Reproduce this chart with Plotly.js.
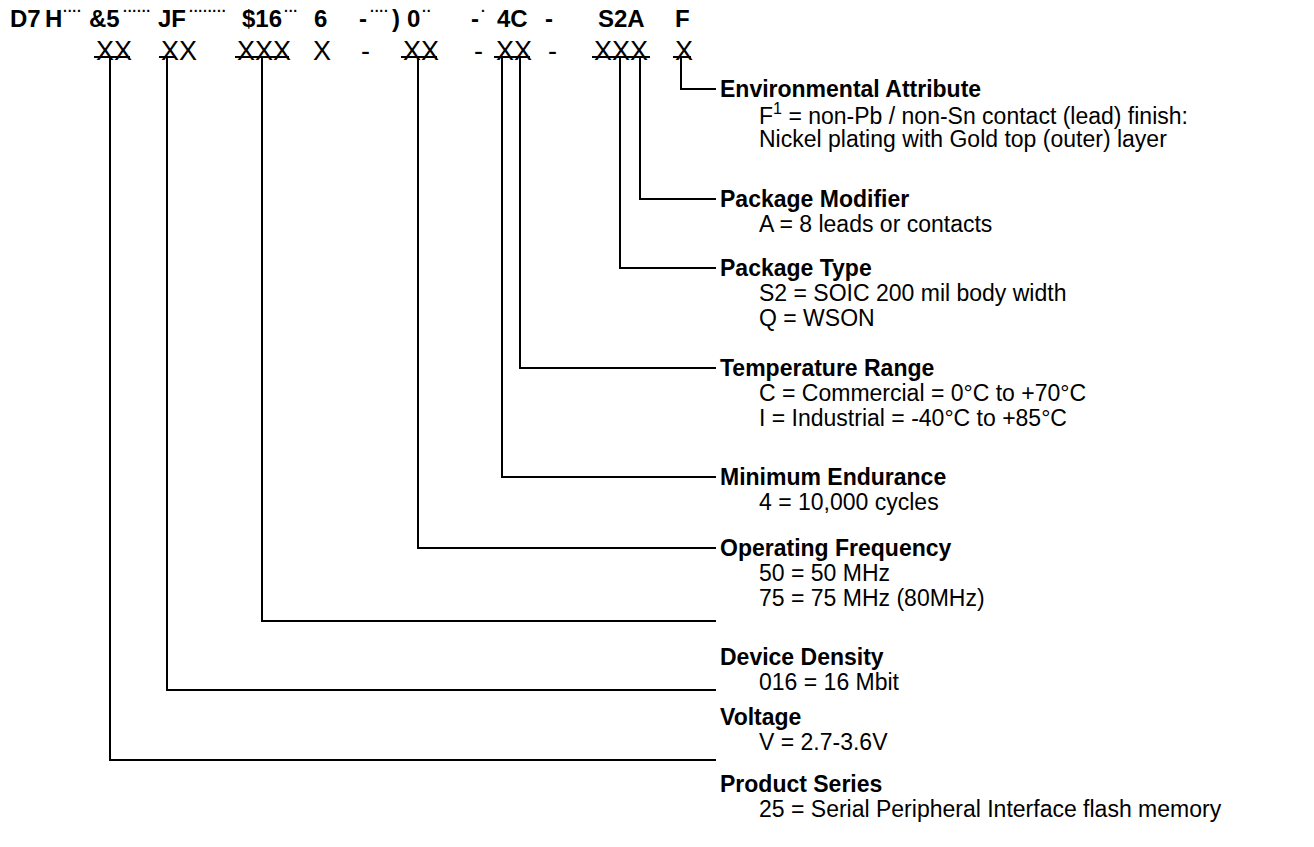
<!DOCTYPE html>
<html>
<head>
<meta charset="utf-8">
<script src="https://cdn.plot.ly/plotly-3.0.1.min.js"></script>
<style>html,body{margin:0;padding:0;background:#fff;}#chart{width:1314px;height:847px;}</style>
</head>
<body>
<div id="chart"></div>
<script>
// ---------- content ----------
const headerTokens = ["D7","H","&5","JF","$16","6","-",")","0","-","4C","-","S2A","F"];
const headerDots = ["····","······","········","···","····","··","·"];
const codeTokens = ["XX","XX","XXX","X","-","XX","-","XX","-","XXX","X"];
const headings = ["Environmental Attribute","Package Modifier","Package Type","Temperature Range","Minimum Endurance","Operating Frequency","Device Density","Voltage","Product Series"];
const details = [
  ["F<sup>1</sup> = non-Pb / non-Sn contact (lead) finish:","Nickel plating with Gold top (outer) layer"],
  ["A = 8 leads or contacts"],
  ["S2 = SOIC 200 mil body width","Q = WSON"],
  ["C = Commercial = 0°C to +70°C","I = Industrial = -40°C to +85°C"],
  ["4 = 10,000 cycles"],
  ["50 = 50 MHz","75 = 75 MHz (80MHz)"],
  ["016 = 16 Mbit"],
  ["V = 2.7-3.6V"],
  ["25 = Serial Peripheral Interface flash memory"]
];

// ---------- geometry (layout only) ----------
const headerX = [25,53,104,172,262,320,363,396,413,475,512,549,621,682];   // token centres
const dotsX = [61,121,187,282,368,420,479];                                 // dot runs (left)
const codeX = [94,159,235,311,359,401,472,494,546,592,673];
const headingY = [89,199,268,368,477,548,657,717,784];
const rowStep = 25;
const connectorX = [681,640,620,520,502,418,262,167,110];
const connectorY = [89,199,268,368,477,548,621,690,760];
const bars = [[94,130],[159,176],[235,289],[401,437],[494,530],[592,650],[673,691]];
const barY = 57, lineEnd = 716, headX = 718, detX = 757;
const FONT = "Liberation Sans, Arial, Helvetica, sans-serif";

const traces = [];
connectorX.forEach((cx,i)=>{
  traces.push({x:[cx,cx,lineEnd],y:[barY,connectorY[i],connectorY[i]],mode:"lines",
    line:{color:"#000",width:2},hoverinfo:"skip",showlegend:false,type:"scatter"});
});
const bx=[],by=[];
bars.forEach(b=>{bx.push(b[0],b[1],null);by.push(barY,barY,null);});
traces.push({x:bx,y:by,mode:"lines",line:{color:"#000",width:2},hoverinfo:"skip",showlegend:false,type:"scatter"});

const ann = [];
headerTokens.forEach((t,i)=>ann.push({x:headerX[i],y:18,text:"<b>"+t+"</b>",xanchor:"center",yanchor:"middle",showarrow:false,font:{family:FONT,size:24,color:"#000"}}));
headerDots.forEach((t,i)=>ann.push({x:dotsX[i],y:10.5,text:"<b>"+t+"</b>",xanchor:"left",yanchor:"middle",showarrow:false,font:{family:FONT,size:14,color:"#000"}}));
codeTokens.forEach((t,i)=>ann.push({x:codeX[i],y:51,text:t,xanchor:"left",yanchor:"middle",showarrow:false,font:{family:FONT,size:27,color:"#000"}}));
headings.forEach((h,i)=>{
  ann.push({x:headX,y:headingY[i],text:"<b>"+h+"</b>",xanchor:"left",yanchor:"middle",showarrow:false,font:{family:FONT,size:23,color:"#000"}});
  details[i].forEach((d,j)=>ann.push({x:detX,y:headingY[i]+rowStep*(j+1),text:d,xanchor:"left",yanchor:"middle",showarrow:false,font:{family:FONT,size:23,color:"#000"}}));
});

const layout = {
  width:1314,height:847,margin:{l:0,r:0,t:0,b:0},
  paper_bgcolor:"#fff",plot_bgcolor:"#fff",
  xaxis:{range:[0,1314],visible:false,fixedrange:true},
  yaxis:{range:[847,0],visible:false,fixedrange:true},
  annotations:ann,showlegend:false
};
Plotly.newPlot("chart",traces,layout,{displayModeBar:false,staticPlot:true});
</script>
</body>
</html>
